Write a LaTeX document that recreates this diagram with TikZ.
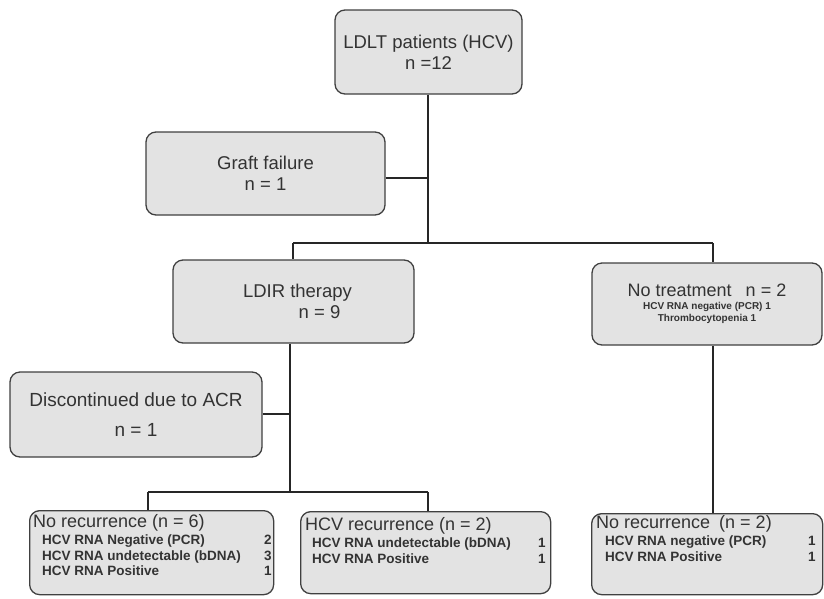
\documentclass[tikz,border=0pt]{standalone}
\usepackage{fontspec}
\setmainfont{Liberation Sans}
\newcommand\smlfont{\fontsize{13.5}{15.5}\selectfont\bfseries}
\newcommand\ttlfont{\fontsize{18}{21}\selectfont\mdseries}
\begin{document}
\begin{tikzpicture}[x=1pt,y=-1pt,
  box/.style={draw=black!75, line width=1.3pt, rounded corners=10pt, fill=black!11, text=black!80},
  big/.style={font=\fontsize{18.5}{21}\selectfont},
  lst/.style={anchor=north west, inner sep=0pt, align=left, text=black!80, font=\smlfont},
  conn/.style={draw=black!85, line width=1.5pt}]
\useasboundingbox (0,0) rectangle (824,598);
% boxes
\node[box, big, minimum width=187pt, minimum height=84pt, align=center] (top) at (428.5,52) {LDLT patients (HCV)\\n =12};
\node[box, big, minimum width=239pt, minimum height=83pt, align=center] (graft) at (265.5,173.5) {Graft failure\\n = 1};
\node[box, big, minimum width=241pt, minimum height=83pt, align=center] (ldir) at (293.5,301.5) {\hspace*{8pt}LDIR therapy\\\hspace*{52pt}n = 9};
\node[box, minimum width=230pt, minimum height=82pt, align=center, font=\fontsize{10}{12}\selectfont\bfseries] (notr) at (707,304) {{\ttlfont No treatment\hspace{14pt}n = 2}\\[1pt]
  HCV RNA negative (PCR) 1\\
  Thrombocytopenia 1};
\node[box, font=\fontsize{19}{22}\selectfont, minimum width=252pt, minimum height=85pt, align=center] (disc) at (136,414.5) {Discontinued due to ACR\\[8pt]n = 1};
\node[box, minimum width=244pt, minimum height=84pt, anchor=north west, inner sep=0pt] (nr6) at (29,510) {};
\node[lst] (nr6t) at (33,514) {%
  {\ttlfont No recurrence (n = 6)}\\[2pt]
  \hspace*{9pt}\makebox[222pt][l]{HCV RNA Negative (PCR)}2\\
  \hspace*{9pt}\makebox[222pt][l]{HCV RNA undetectable (bDNA)}3\\
  \hspace*{9pt}\makebox[222pt][l]{HCV RNA Positive}1};
\node[box, minimum width=250pt, minimum height=82pt, anchor=north west, inner sep=0pt] (hcvr) at (300,511) {};
\node[lst] (hcvrt) at (305,517) {%
  {\ttlfont HCV recurrence (n = 2)}\\[2pt]
  \hspace*{7pt}\makebox[226pt][l]{HCV RNA undetectable (bDNA)}1\\
  \hspace*{7pt}\makebox[226pt][l]{HCV RNA Positive}1};
\node[box, minimum width=231pt, minimum height=81pt, anchor=north west, inner sep=0pt] (nr2) at (591,513) {};
\node[lst] (nr2t) at (596,515) {%
  {\ttlfont No recurrence\hspace{9pt}(n = 2)}\\[2pt]
  \hspace*{9pt}\makebox[203pt][l]{HCV RNA negative (PCR)}1\\
  \hspace*{9pt}\makebox[203pt][l]{HCV RNA Positive}1};
% junction coordinates
\coordinate (j1) at (428,178);
\coordinate (j2) at (428,243);
\coordinate (jl) at (293,243);
\coordinate (jr) at (713,243);
\coordinate (k1) at (290,414);
\coordinate (k2) at (290,492);
\coordinate (kl) at (148,492);
\coordinate (kr) at (428,492);
% connectors
\draw[conn] (top.south -| j1) -- (j1) -- (j2);
\draw[conn] (graft.east |- j1) -- (j1);
\draw[conn] (jl) -- (jr);
\draw[conn] (jl) -- (ldir.north -| jl);
\draw[conn] (jr) -- (notr.north -| jr);
\draw[conn] (ldir.south -| k1) -- (k1) -- (k2);
\draw[conn] (disc.east |- k1) -- (k1);
\draw[conn] (kl) -- (kr);
\draw[conn] (kl) -- (nr6.north -| kl);
\draw[conn] (kr) -- (hcvr.north -| kr);
\draw[conn] (notr.south -| jr) -- (nr2.north -| jr);
\end{tikzpicture}
\end{document}
